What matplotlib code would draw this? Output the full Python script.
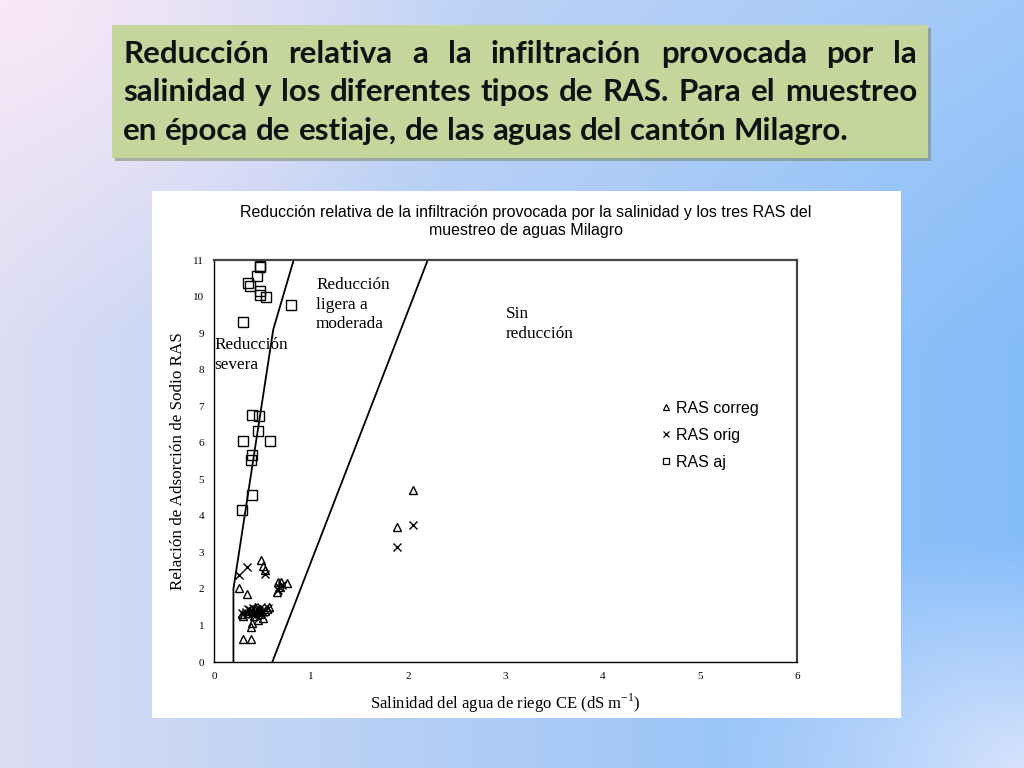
import numpy as np
import matplotlib.pyplot as plt
from matplotlib.lines import Line2D
from matplotlib.patches import Rectangle

# data
ce_aj = [0.47, 0.47, 0.44, 0.35, 0.37, 0.47, 0.47, 0.54, 0.79, 0.30,
         0.39, 0.46, 0.45, 0.30, 0.58, 0.39, 0.38, 0.39, 0.29]
ras_aj = [10.83, 10.80, 10.56, 10.37, 10.28, 10.15, 10.05, 9.99, 9.78, 9.31,
          6.77, 6.72, 6.33, 6.05, 6.04, 5.67, 5.52, 4.56, 4.15]

ce_correg = [1.88, 2.05, 0.48, 0.50, 0.53, 0.26, 0.34, 0.66, 0.69, 0.75,
             0.65, 0.68, 0.29, 0.30, 0.35, 0.38, 0.40, 0.42, 0.44, 0.46,
             0.48, 0.50, 0.45, 0.41, 0.36, 0.55, 0.57, 0.52, 0.39, 0.38,
             0.30, 0.38]
ras_correg = [3.70, 4.71, 2.78, 2.62, 2.52, 2.02, 1.85, 2.20, 2.20, 2.15,
              1.92, 2.05, 1.30, 1.25, 1.35, 1.45, 1.40, 1.50, 1.38, 1.45,
              1.30, 1.20, 1.15, 1.25, 1.40, 1.45, 1.50, 1.40, 1.06, 0.96,
              0.62, 0.62]

ce_orig = [1.88, 2.05, 0.34, 0.26, 0.53, 0.67, 0.70, 0.66, 0.29, 0.33,
           0.37, 0.40, 0.42, 0.44, 0.46, 0.48, 0.50, 0.43, 0.39, 0.35,
           0.56, 0.47]
ras_orig = [3.15, 3.75, 2.61, 2.37, 2.41, 2.05, 2.10, 1.98, 1.33, 1.38,
            1.42, 1.48, 1.35, 1.45, 1.40, 1.50, 1.38, 1.28, 1.30, 1.45,
            1.48, 1.33]

# zone boundaries
severe_ce = [0.2, 0.2, 0.61, 0.82]
severe_ras = [0, 2, 9.1, 11]
none_ce = [0.6, 2.2]
none_ras = [0, 11]

title_lines = ["Reducción relativa a la infiltración provocada por la",
               "salinidad y los diferentes tipos de RAS. Para el muestreo",
               "en época de estiaje, de las aguas del cantón Milagro."]

W, H = 1024, 768
fig = plt.figure(figsize=(W / 100, H / 100), dpi=100)

# slide background gradient
yy, xx = np.mgrid[0:1:200j, 0:1:260j]
left = np.array([220, 222, 242]) / 255
right = np.array([132, 188, 250]) / 255
img = left + (right - left) * xx[..., None] ** 0.9
top_mix = np.clip(1 - yy / 0.45, 0, 1)[..., None] * 0.35
img = img * (1 - top_mix) + np.array([0.84, 0.87, 0.96]) * top_mix
pink = np.clip(1 - np.hypot(xx, yy) / 0.45, 0, 1)[..., None]
img = img * (1 - pink) + np.array([0.98, 0.91, 0.97]) * pink
spot = np.clip(1 - np.hypot(xx - 1, yy - 1) / 0.3, 0, 1)[..., None]
img = img * (1 - spot) + np.array([0.84, 0.89, 0.99]) * spot
bg = fig.add_axes([0, 0, 1, 1])
bg.imshow(img, aspect='auto', extent=[0, 1, 0, 1], origin='upper')
bg.set_xlim(0, 1)
bg.set_ylim(0, 1)
bg.axis('off')


def fx(px):
    return px / W


def fy(py):
    return 1 - py / H


# title box with shadow
bg.add_patch(Rectangle((fx(115), fy(161)), fx(928 - 112), (158 - 25) / H,
                       color='#6f7f55', alpha=0.5, lw=0))
bg.add_patch(Rectangle((fx(112), fy(158)), fx(928 - 112), (158 - 25) / H,
                       color='#c4d69b', lw=0))

# justified title text
renderer = fig.canvas.get_renderer()
baselines = [63, 101, 140]
x0, x1 = 123, 917
tsize = 22.5
for i, line in enumerate(title_lines):
    words = line.split(' ')
    texts = [bg.text(0, fy(baselines[i]), w, fontsize=tsize, fontweight='bold',
                     family='Lato', va='baseline', ha='left', color='#111111')
             for w in words]
    widths = [t.get_window_extent(renderer).width for t in texts]
    if i < len(title_lines) - 1:
        gap = (x1 - x0 - sum(widths)) / (len(words) - 1)
    else:
        gap = renderer.points_to_pixels(tsize) * 0.25
    pos = x0
    for t, w in zip(texts, widths):
        t.set_x(fx(pos))
        pos += w + gap

# white chart panel
bg.add_patch(Rectangle((fx(152), fy(718)), fx(901 - 152), (718 - 191) / H,
                       color='white', lw=0))

fig.text(fx(526), fy(222), "Reducción relativa de la infiltración provocada por la salinidad y los tres RAS del\nmuestreo de aguas Milagro",
         ha='center', va='center', fontsize=11.5, family='Liberation Sans',
         linespacing=1.25)

ax = fig.add_axes([fx(214), fy(662), fx(797 - 214), (662 - 260) / H])
ax.set_facecolor('none')

ax.plot(severe_ce, severe_ras, color='black', lw=1.3)
ax.plot(none_ce, none_ras, color='black', lw=1.3)

ax.plot(ce_correg, ras_correg, ls='none', marker='^', ms=6, mfc='none',
        mec='black', mew=1.0)
ax.plot(ce_orig, ras_orig, ls='none', marker='x', ms=6, color='black',
        mew=1.0)
ax.plot(ce_aj, ras_aj, ls='none', marker='s', ms=6.5, mfc='none',
        mec='black', mew=1.0)

ax.set_xlim(0, 6)
ax.set_ylim(0, 11)
ax.set_xticks(range(0, 7))
ax.set_yticks(range(0, 12))
ax.tick_params(length=0, labelsize=8, pad=7)
for lab in ax.get_xticklabels() + ax.get_yticklabels():
    lab.set_family('Liberation Serif')
for side in ['left', 'bottom']:
    ax.spines[side].set_color('black')
    ax.spines[side].set_linewidth(1.0)
for side in ['top', 'right']:
    ax.spines[side].set_color('#444444')
    ax.spines[side].set_linewidth(1.6)

ax.set_xlabel("Salinidad del agua de riego CE (dS m$^{\\mathregular{-1}}$)",
              family='Liberation Serif', fontsize=12, labelpad=8)
ax.set_ylabel("Relación de Adsorción de Sodio RAS", family='Liberation Serif',
              fontsize=12.3, labelpad=5)

ax.text(1.05, 10.53, "Reducción\nligera a\nmoderada", family='Liberation Serif',
        fontsize=12.4, va='top', linespacing=1.3)
ax.text(3.0, 9.73, "Sin\nreducción", family='Liberation Serif',
        fontsize=12.4, va='top', linespacing=1.3)
ax.text(0.0, 8.88, "Reducción\nsevera", family='Liberation Serif',
        fontsize=12.4, va='top', linespacing=1.3)

handles = [Line2D([], [], ls='none', marker='^', ms=5, mfc='none', mec='black', mew=0.9),
           Line2D([], [], ls='none', marker='x', ms=5, color='black', mew=0.9),
           Line2D([], [], ls='none', marker='s', ms=5, mfc='none', mec='black', mew=0.9)]
leg = ax.legend(handles, ["RAS correg", "RAS orig", "RAS aj"], frameon=False,
                loc='upper left', bbox_to_anchor=(0.737, 0.685),
                prop={'family': 'Liberation Sans', 'size': 11.5},
                handletextpad=0.1, handlelength=1.0, labelspacing=0.75)

fig.savefig('out.png', dpi=100)
